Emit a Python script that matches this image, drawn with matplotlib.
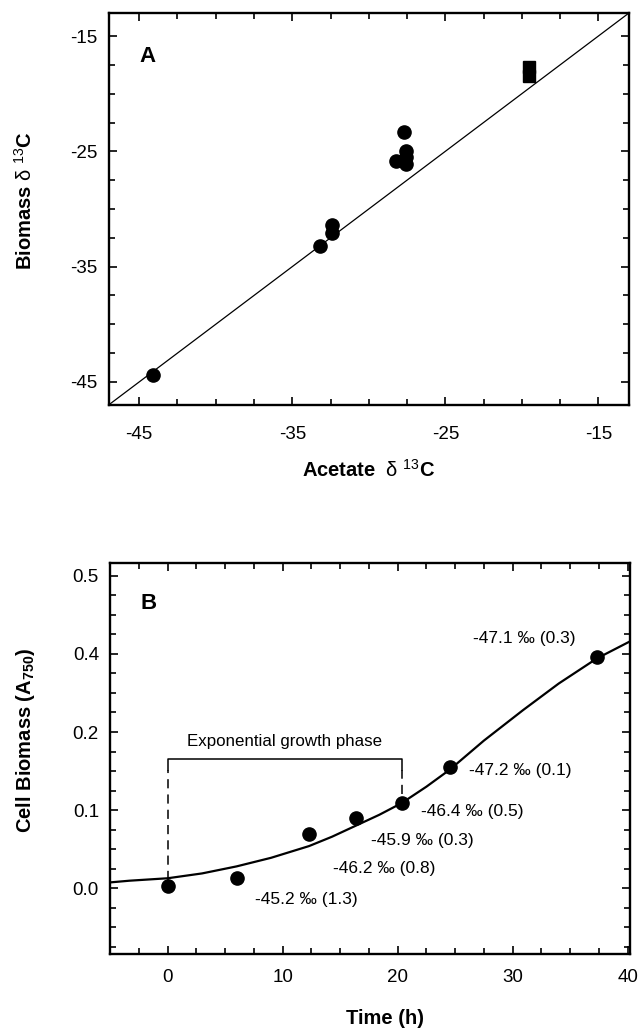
import numpy as np
import matplotlib
matplotlib.use("Agg")
import matplotlib.pyplot as plt
from matplotlib.ticker import MultipleLocator, FixedLocator, FixedFormatter

plt.rcParams["font.family"] = ["Liberation Sans", "DejaVu Sans"]
plt.rcParams["mathtext.fontset"] = "custom"
plt.rcParams["mathtext.rm"] = "Liberation Sans"
plt.rcParams["mathtext.bf"] = "Liberation Sans:bold"
plt.rcParams["axes.unicode_minus"] = False

# --- panel A: acetate vs biomass d13C ---
acetate_circ = [-44.1, -33.2, -32.4, -32.4, -27.7, -27.55, -27.55, -27.6, -28.2]
biomass_circ = [-44.4, -33.2, -31.4, -32.1, -23.3, -25.0, -25.5, -26.1, -25.8]
acetate_sq = [-19.55, -19.55]
biomass_sq = [-17.7, -18.5]
lim_a = (-47, -13)
ticks_a = [-45, -35, -25, -15]

# --- panel B: growth curve ---
time_h = [0, 6.05, 12.3, 16.35, 20.35, 24.55, 37.3]
a750 = [0.003, 0.013, 0.070, 0.090, 0.109, 0.155, 0.2955]
fit_t = [-5, -3.3, 0, 3, 6, 9, 12.3, 14.3, 16.35, 18.4, 20.35, 22.5, 24.55,
         27.5, 30.9, 34, 37.3, 40.2]
fit_y = [0.0075, 0.0097, 0.0128, 0.019, 0.028, 0.039, 0.054, 0.066, 0.080,
         0.094, 0.109, 0.130, 0.152, 0.189, 0.228, 0.262, 0.294, 0.316]
ann_text = ["-45.2 ‰ (1.3)", "-46.2 ‰ (0.8)", "-45.9 ‰ (0.3)",
            "-46.4 ‰ (0.5)", "-47.2 ‰ (0.1)", "-47.1 ‰ (0.3)"]
ann_x = [7.6, 14.35, 17.7, 22.0, 26.2, 26.55]
ann_y = [-0.015, 0.025, 0.0615, 0.0977, 0.151, 0.320]
ytick_pos_b = [0.0, 0.1, 0.2, 0.3, 0.4]
ytick_lab_b = ["0.0", "0.1", "0.2", "0.4", "0.5"]
phase_start, phase_end = 0, 20.35


def style_axes(ax):
    for s in ax.spines.values():
        s.set_linewidth(1.7)
    ax.tick_params(which="both", direction="in", top=True, right=True,
                   width=1.2, labelsize=13.5)
    ax.tick_params(which="major", length=6)
    ax.tick_params(which="minor", length=4.5)


def place_labels(ax, xpos, ypos):
    ax.xaxis.set_label_coords(*xpos)
    ax.yaxis.set_label_coords(*ypos)
    ax.xaxis.label.set_va("center")
    ax.yaxis.label.set_va("center")
    ax.yaxis.label.set_ha("center")


fig = plt.figure(figsize=(6.44, 10.30), dpi=100)

# panel A
ax = fig.add_axes([0.1686, 0.6068, 0.8081, 0.3806])
ax.plot(lim_a, lim_a, color="black", lw=0.9)
ax.plot(acetate_circ, biomass_circ, "o", color="black", ms=9.5)
ax.plot(acetate_sq, biomass_sq, "s", color="black", ms=8)
ax.set_xlim(lim_a)
ax.set_ylim(lim_a)
ax.set_xticks(ticks_a)
ax.set_yticks(ticks_a)
ax.xaxis.set_minor_locator(MultipleLocator(2.5))
ax.yaxis.set_minor_locator(MultipleLocator(2.5))
style_axes(ax)
ax.tick_params(axis="x", pad=15)
ax.tick_params(axis="y", pad=8)
ax.set_xlabel("Acetate  $\\mathrm{\\delta}$ $^{\\mathrm{13}}$C", fontsize=14.5, fontweight="bold")
ax.set_ylabel("Biomass $\\mathrm{\\delta}$ $^{\\mathrm{13}}$C", fontsize=14.5, fontweight="bold")
place_labels(ax, (0.5, -0.166), (-0.161, 0.52))
ax.text(0.060, 0.890, "A", transform=ax.transAxes, fontsize=16,
        fontweight="bold", va="center", ha="left")

# panel B
ax = fig.add_axes([0.1708, 0.0738, 0.8075, 0.3796])
ax.plot(fit_t, fit_y, color="black", lw=1.6)
ax.plot(time_h, a750, "o", color="black", ms=9.5)
top = 0.1655
leg = 0.1515
ax.plot([phase_start, phase_start, phase_end, phase_end], [leg, top, top, leg],
        color="black", lw=1.1)
ax.plot([phase_start, phase_start], [a750[0] + 0.008, leg], color="black",
        lw=1.1, ls=(0, (6, 4)))
ax.plot([phase_end, phase_end], [a750[4] + 0.012, leg], color="black",
        lw=1.1, ls=(0, (6, 4)))
ax.text((phase_start + phase_end) / 2, 0.1875, "Exponential growth phase",
        fontsize=12.2, ha="center", va="center")
for t, x, y in zip(ann_text, ann_x, ann_y):
    ax.text(x, y, t, fontsize=12.5, ha="left", va="center")
ax.set_xlim(-5, 40.2)
ax.set_ylim(-0.0841, 0.4163)
ax.set_xticks([0, 10, 20, 30, 40])
ax.xaxis.set_minor_locator(MultipleLocator(2.5))
ax.yaxis.set_major_locator(FixedLocator(ytick_pos_b))
ax.yaxis.set_major_formatter(FixedFormatter(ytick_lab_b))
ax.yaxis.set_minor_locator(MultipleLocator(0.025))
style_axes(ax)
ax.tick_params(axis="x", pad=11)
ax.tick_params(axis="y", pad=8)
ax.set_xlabel("Time (h)", fontsize=14.5, fontweight="bold")
ax.set_ylabel("Cell Biomass (A$_{\\mathbf{750}}$)", fontsize=14.5, fontweight="bold")
place_labels(ax, (0.529, -0.164), (-0.163, 0.547))
ax.text(0.058, 0.897, "B", transform=ax.transAxes, fontsize=16,
        fontweight="bold", va="center", ha="left")

fig.savefig("out.png", dpi=100)
